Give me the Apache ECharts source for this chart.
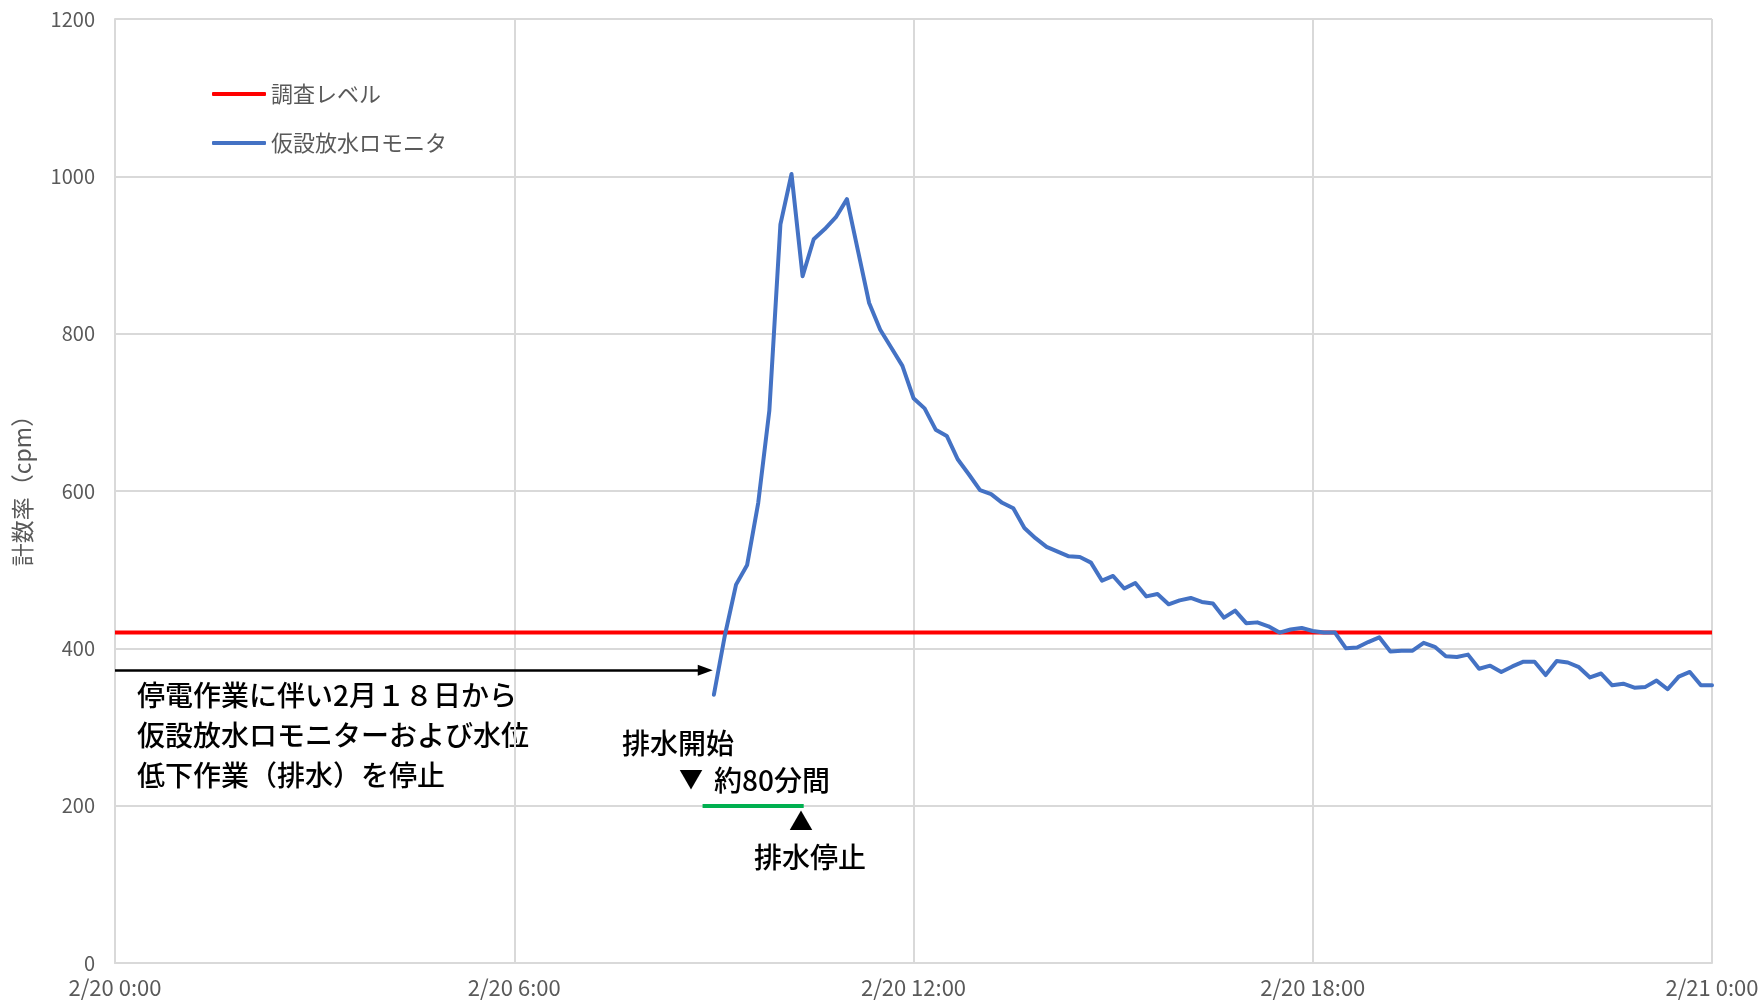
<!DOCTYPE html>
<html>
<head>
<meta charset="utf-8">
<script src="https://cdn.jsdelivr.net/npm/echarts@6/dist/echarts.min.js"></script>
<style>
  html, body { margin: 0; padding: 0; background: #fff; }
  #chart { width: 1762px; height: 1001px; }
</style>
</head>
<body>
<div id="chart"></div>
<script>
// Tick labels of the time axis (hours 0, 6, 12, 18, 24 from 2/20 0:00)
const xTickLabels = ['2/20 0:00', '2/20 6:00', '2/20 12:00', '2/20 18:00', '2/21 0:00'];
const yTickValues = [0, 200, 400, 600, 800, 1000, 1200];

// Temporary discharge monitor readings (cpm), every 10 minutes from 9:00 to 24:00
const monitorStartHour = 9;
const monitorStepMinutes = 10;
const monitorValues = [
  341, 417, 481, 506, 585, 702,          // 9:00 - 9:50
  939, 1003, 873, 920, 933, 948,         // 10:00 - 10:50
  971, 905, 839, 805, 782, 759,          // 11:00 - 11:50
  718, 705, 678, 670, 640, 621,          // 12:00 - 12:50
  601, 596, 585, 578, 553, 540,          // 13:00 - 13:50
  529, 523, 517, 516, 509, 486,          // 14:00 - 14:50
  492, 476, 483, 466, 469, 456,          // 15:00 - 15:50
  461, 464, 459, 457, 439, 448,          // 16:00 - 16:50
  432, 433, 428, 420, 424, 426,          // 17:00 - 17:50
  422, 420, 420, 400, 401, 408,          // 18:00 - 18:50
  414, 396, 397, 397, 407, 402,          // 19:00 - 19:50
  390, 389, 392, 374, 378, 370,          // 20:00 - 20:50
  377, 383, 383, 366, 384, 382,          // 21:00 - 21:50
  376, 363, 368, 353, 355, 350,          // 22:00 - 22:50
  351, 359, 348, 364, 370, 353,          // 23:00 - 23:50
  353                                    // 24:00
];

// Investigation level (cpm)
const investigationLevel = 420;

// Annotation marks: suspension arrow and drainage period (hours, cpm)
const suspendedArrow = { fromHour: 0, toHour: 8.87, level: 372 };
const drainPeriod = { fromHour: 8.83, toHour: 10.35, level: 200 };

const monitorData = monitorValues.map((v, i) => [monitorStartHour + i * monitorStepMinutes / 60, v]);

const FONT = '"Noto Sans CJK JP", "Noto Sans", sans-serif';
const NOTE_FONT = '500 28px ' + FONT;
const GREY = '#595959';
const GRID_LINE = '#d9d9d9';

const chart = echarts.init(document.getElementById('chart'), null, { renderer: 'canvas' });

chart.setOption({
  animation: false,
  backgroundColor: '#fff',
  grid: { left: 115, right: 50, top: 19, bottom: 38, containLabel: false },
  legend: {
    data: ['調査レベル', '仮設放水ロモニタ'],
    orient: 'vertical',
    left: 207,
    top: 78,
    itemGap: 27,
    itemWidth: 54,
    itemHeight: 4,
    icon: 'roundRect',
    textStyle: { fontSize: 22, color: GREY, fontFamily: FONT },
    selectedMode: false
  },
  xAxis: {
    type: 'value',
    min: 0, max: 24, interval: 6,
    axisLine: { show: true, lineStyle: { color: GRID_LINE, width: 2 } },
    axisTick: { show: false },
    splitLine: { show: true, lineStyle: { color: GRID_LINE, width: 2 } },
    axisLabel: {
      fontSize: 22, color: GREY, fontFamily: FONT, margin: 14,
      formatter: v => xTickLabels[Math.round(v / 6)]
    }
  },
  yAxis: {
    type: 'value',
    min: yTickValues[0], max: yTickValues[yTickValues.length - 1], interval: 200,
    axisLine: { show: true, lineStyle: { color: GRID_LINE, width: 2 } },
    axisTick: { show: false },
    splitLine: { show: true, lineStyle: { color: GRID_LINE, width: 2 } },
    axisLabel: { fontSize: 20, color: GREY, fontFamily: FONT, margin: 20, formatter: v => String(v) }
  },
  series: [
    {
      name: '調査レベル',
      type: 'line',
      data: [[0, investigationLevel], [24, investigationLevel]],
      symbol: 'none',
      color: '#ff0000',
      lineStyle: { color: '#ff0000', width: 4 },
      silent: true,
      z: 2
    },
    {
      name: '仮設放水ロモニタ',
      type: 'line',
      data: monitorData,
      symbol: 'none',
      color: '#4472c4',
      lineStyle: { color: '#4472c4', width: 4, join: 'round', cap: 'round' },
      silent: true,
      z: 3
    },
    {
      name: 'annotations',
      type: 'line',
      data: [],
      silent: true,
      z: 4,
      markLine: {
        silent: true,
        animation: false,
        symbol: ['none', 'none'],
        label: { show: false },
        emphasis: { disabled: true },
        data: [
          [
            { coord: [suspendedArrow.fromHour, suspendedArrow.level], symbol: 'none',
              lineStyle: { color: '#000', width: 2.5, type: 'solid' } },
            { coord: [suspendedArrow.toHour, suspendedArrow.level], symbol: 'triangle', symbolSize: [11, 15] }
          ],
          [
            { coord: [drainPeriod.fromHour, drainPeriod.level], symbol: 'none',
              lineStyle: { color: '#00b050', width: 4, type: 'solid' } },
            { coord: [drainPeriod.toHour, drainPeriod.level], symbol: 'none' }
          ]
        ]
      }
    }
  ],
  graphic: [
    { type: 'text', x: 22, y: 485, rotation: Math.PI / 2, silent: true,
      style: { text: '計数率（cpm）', fill: GREY, font: '23px ' + FONT, textAlign: 'center', textVerticalAlign: 'middle' } },

    { type: 'text', x: 137, y: 695, silent: true,
      style: { text: '停電作業に伴い2月１８日から', fill: '#000', font: NOTE_FONT, textAlign: 'left', textVerticalAlign: 'middle' } },
    { type: 'text', x: 137, y: 735, silent: true,
      style: { text: '仮設放水ロモニターおよび水位', fill: '#000', font: NOTE_FONT, textAlign: 'left', textVerticalAlign: 'middle' } },
    { type: 'text', x: 137, y: 775, silent: true,
      style: { text: '低下作業（排水）を停止', fill: '#000', font: NOTE_FONT, textAlign: 'left', textVerticalAlign: 'middle' } },

    { type: 'text', x: 678, y: 743, silent: true,
      style: { text: '排水開始', fill: '#000', font: NOTE_FONT, textAlign: 'center', textVerticalAlign: 'middle' } },
    { type: 'text', x: 691, y: 779, silent: true,
      style: { text: '▼', fill: '#000', font: '24px ' + FONT, textAlign: 'center', textVerticalAlign: 'middle' } },
    { type: 'text', x: 714, y: 780, silent: true,
      style: { text: '約80分間', fill: '#000', font: NOTE_FONT, textAlign: 'left', textVerticalAlign: 'middle' } },
    { type: 'text', x: 801, y: 821, silent: true,
      style: { text: '▲', fill: '#000', font: '24px ' + FONT, textAlign: 'center', textVerticalAlign: 'middle' } },
    { type: 'text', x: 810, y: 857, silent: true,
      style: { text: '排水停止', fill: '#000', font: NOTE_FONT, textAlign: 'center', textVerticalAlign: 'middle' } }
  ]
});
</script>
</body>
</html>
